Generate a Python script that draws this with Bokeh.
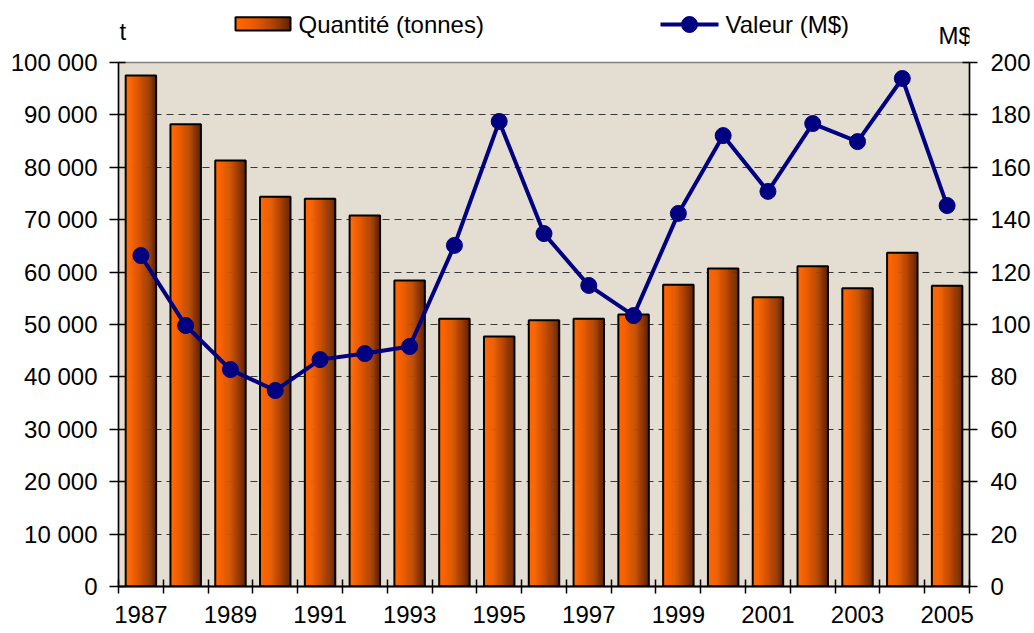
import numpy as np
from bokeh.plotting import figure
from bokeh.models import Range1d, LinearAxis, FixedTicker
from bokeh.layouts import column
from bokeh.embed import file_html
from bokeh.resources import INLINE
from bokeh.core.properties import value

# ---------------- data ----------------
years = [1987, 1988, 1989, 1990, 1991, 1992, 1993, 1994, 1995, 1996,
         1997, 1998, 1999, 2000, 2001, 2002, 2003, 2004, 2005]
quantite = [97500, 88200, 81300, 74400, 74000, 70800, 58400, 51100, 47700, 50800,
            51100, 51900, 57600, 60700, 55200, 61100, 56900, 63700, 57400]
valeur = [126.3, 99.6, 82.8, 74.8, 86.6, 88.9, 91.6, 130.2, 177.5, 134.7,
          114.9, 103.4, 142.4, 172.1, 150.8, 176.7, 169.8, 193.9, 145.4]
left_ticks = [0, 10000, 20000, 30000, 40000, 50000, 60000, 70000, 80000, 90000, 100000]
left_labels = ["0", "10 000", "20 000", "30 000", "40 000", "50 000",
               "60 000", "70 000", "80 000", "90 000", "100 000"]
right_ticks = [0, 20, 40, 60, 80, 100, 120, 140, 160, 180, 200]
label_years = [1987, 1989, 1991, 1993, 1995, 1997, 1999, 2001, 2003, 2005]
series_names = ["Quantité (tonnes)", "Valeur (M$)"]
unit_left = "t"
unit_right = "M$"

FONT = "Liberation Sans"
FS = "24px"
NAVY = "#000080"
BG = "#e4ddd1"

# layout geometry (page pixels)
FL, FR = 118, 969          # frame left / right
HEAD_H = 48                # header strip height
FT, FB = 62, 586           # frame top / bottom
BL, BR = FL, 61

# gradient colours for the bars (left bright orange -> right dark brown)
N = 32
c0 = np.array([255, 102, 0])
c1 = np.array([100, 36, 0])
t = np.linspace(0, 1, N)
grad = ["#%02x%02x%02x" % tuple(int(v) for v in (c0 + (c1 - c0) * (tt ** 1.7))) for tt in t]

# ---------------- main figure ----------------
idx = np.arange(len(years))
p = figure(frame_width=FR - FL, frame_height=FB - FT,
           x_range=Range1d(-0.5, len(years) - 0.5), y_range=Range1d(0, 100000),
           output_backend="svg", toolbar_location=None,
           min_border_left=BL, min_border_right=BR, min_border_top=FT - HEAD_H,
           min_border_bottom=46,
           background_fill_color=BG, border_fill_color="white",
           outline_line_color="#808080", outline_line_width=1.5)
p.extra_y_ranges = {"val": Range1d(0, 200)}

p.xgrid.visible = False
p.ygrid.ticker = FixedTicker(ticks=left_ticks)
p.ygrid.grid_line_color = "#383838"
p.ygrid.grid_line_dash = "7 5"
p.ygrid.grid_line_width = 1

bw = 0.68
sw = bw / N
xs, tops, cols = [], [], []
for k in range(N):
    for i, q in zip(idx, quantite):
        xs.append(i - bw / 2 + (k + 0.5) * sw)
        tops.append(q)
        cols.append(grad[k])
p.vbar(x=xs, top=tops, bottom=0, width=sw * 1.6, fill_color=cols, line_color=None)
p.vbar(x=idx, top=quantite, bottom=0, width=bw, fill_color=None,
       line_color="black", line_width=2)

p.line(idx, valeur, y_range_name="val", line_color=NAVY, line_width=4)
p.scatter(idx, valeur, y_range_name="val", size=16, fill_color=NAVY, line_color=NAVY)

xa = p.xaxis[0]
xa.ticker = FixedTicker(ticks=[years.index(y) for y in label_years],
                        minor_ticks=[i - 0.5 for i in range(len(years) + 1)])
xa.major_label_overrides = {float(years.index(y)): str(y) for y in label_years}
xa.major_tick_in = 0
xa.major_tick_out = 0
xa.minor_tick_in = 7
xa.minor_tick_out = 7
xa.minor_tick_line_color = "black"
xa.minor_tick_line_width = 1.5
xa.axis_line_color = "black"
xa.axis_line_width = 2
xa.major_label_standoff = 12

ya = p.yaxis[0]
ya.ticker = FixedTicker(ticks=left_ticks)
ya.major_label_overrides = {float(v): s for v, s in zip(left_ticks, left_labels)}
ya.major_tick_in = 7
ya.major_tick_out = 9
ya.minor_tick_line_color = None
ya.axis_line_color = "black"
ya.axis_line_width = 1.5
ya.major_tick_line_width = 1.5
ya.major_label_standoff = 12

ra = LinearAxis(y_range_name="val", ticker=FixedTicker(ticks=right_ticks))
ra.major_tick_in = 7
ra.major_tick_out = 8
ra.minor_tick_line_color = None
ra.axis_line_color = "black"
ra.axis_line_width = 1.5
ra.major_tick_line_width = 1.5
ra.major_label_standoff = 13
p.add_layout(ra, "right")

for ax in (xa, ya, ra):
    ax.major_label_text_font = FONT
    ax.major_label_text_font_size = FS
    ax.major_label_text_color = "black"

# ---------------- header strip: legend + unit labels (page-pixel coordinates) ----------------
h = figure(frame_width=FR - FL, frame_height=HEAD_H,
           x_range=Range1d(FL, FR), y_range=Range1d(HEAD_H, 0),
           x_axis_type=None, y_axis_type=None,
           output_backend="svg", toolbar_location=None,
           min_border_left=BL, min_border_right=BR, min_border_top=0, min_border_bottom=0,
           outline_line_color=None, background_fill_color="white", border_fill_color="white")
h.grid.visible = False

gx0, gx1 = 235, 290
gs = (gx1 - gx0) / N
h.quad(left=[gx0 + k * gs for k in range(N)],
       right=[min(gx0 + (k + 1.6) * gs, gx1) for k in range(N)],
       top=16.7, bottom=30, fill_color=grad, line_color=None)
h.quad(left=[gx0], right=[gx1], top=[16.7], bottom=[30], fill_color=None,
       line_color="black", line_width=2)


def txt(x, y, s):
    h.text(x=[x], y=[y], text=[s], text_font=value(FONT), text_font_size=FS,
           text_baseline="middle", text_align="left", text_color="black")


txt(298, 23.5, series_names[0])
h.line(x=[660, 718], y=[24, 24], line_color=NAVY, line_width=4)
h.scatter(x=[689], y=[24], size=16, fill_color=NAVY, line_color=NAVY)
txt(725, 23.5, series_names[1])
txt(119, 30.5, unit_left)
txt(938, 34.5, unit_right)

layout = column(h, p, spacing=0)
open("out.html", "w").write(file_html(layout, INLINE))
